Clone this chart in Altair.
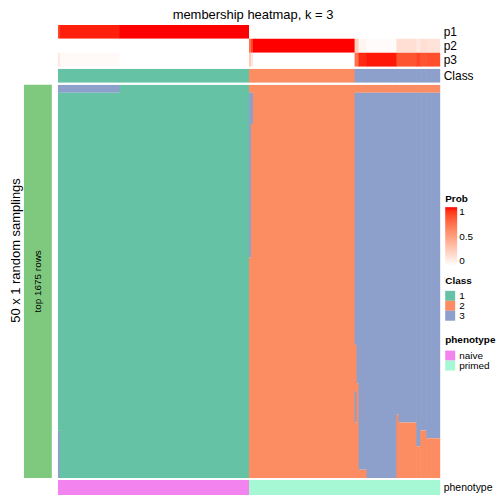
import altair as alt
import pandas as pd

FONT = "Liberation Sans"
N_SAMPLES = 192
N_ROWS = 1675

# ---- top annotation: column groups (sample index ranges) ----
ann_start = [0, 1, 31, 96, 97, 98, 149, 151, 155, 170, 180, 182, 185]
ann_end = [1, 31, 96, 97, 98, 149, 151, 155, 170, 180, 182, 185, 192]
p1 = [0.87, 0.97, 1.0, 0.0, 0.0, 0.0, 0.0, 0.0, 0.0, 0.0, 0.0, 0.0, 0.0]
p2 = [0.0, 0.0, 0.0, 0.72, 0.88, 1.0, 0.25, 0.05, 0.02, 0.17, 0.12, 0.17, 0.15]
p3 = [0.13, 0.03, 0.0, 0.28, 0.12, 0.0, 0.72, 0.95, 0.98, 0.83, 0.88, 0.83, 0.85]
ann_class = ["1", "1", "1", "2", "2", "2", "3", "3", "3", "3", "3", "3", "3"]

# ---- main heatmap: per column group, runs of (row_end, class) ----
hm_start = [0, 1, 31, 96, 97, 98, 149, 150, 151, 155, 170, 171, 180, 182, 185]
hm_end = [1, 31, 96, 97, 98, 149, 150, 151, 155, 170, 171, 180, 182, 185, 192]
hm_runs = [
    [(34, "3"), (1473, "1"), (1675, "3")],
    [(34, "3"), (1675, "1")],
    [(1675, "1")],
    [(34, "2"), (736, "3"), (1675, "2")],
    [(34, "2"), (167, "3"), (1675, "2")],
    [(1675, "2")],
    [(34, "2"), (1107, "3"), (1305, "2"), (1438, "3"), (1675, "2")],
    [(34, "2"), (1271, "3"), (1675, "2")],
    [(34, "2"), (1640, "3"), (1675, "2")],
    [(34, "2"), (1675, "3")],
    [(34, "2"), (1404, "3"), (1675, "2")],
    [(34, "2"), (1438, "3"), (1675, "2")],
    [(34, "2"), (1539, "3"), (1675, "2")],
    [(34, "2"), (1472, "3"), (1675, "2")],
    [(34, "2"), (1505, "3"), (1675, "2")],
]

# ---- phenotype ----
ph_start = [0, 96]
ph_end = [96, 192]
ph_label = ["naive", "primed"]

class_levels = ["1", "2", "3"]
class_colors = ["#66C2A5", "#FC8D62", "#8DA0CB"]
ph_colors = ["#F384EF", "#A6F8D5"]
bar_color = "#7FC97F"

# ---- build tables ----
prob_rows = []
for i in range(len(ann_start)):
    for name, vals in (("p1", p1), ("p2", p2), ("p3", p3)):
        prob_rows.append({"start": ann_start[i], "end": ann_end[i], "row": name, "value": vals[i]})
prob_df = pd.DataFrame(prob_rows)

cls_df = pd.DataFrame({"start": ann_start, "end": ann_end, "cls": ann_class, "lab": "Class"})

hm_rows = []
for s, e, runs in zip(hm_start, hm_end, hm_runs):
    r0 = 0
    for r1, c in runs:
        hm_rows.append({"start": s, "end": e, "r0": r0, "r1": r1, "cls": c})
        r0 = r1
hm_df = pd.DataFrame(hm_rows)

ph_df = pd.DataFrame({"start": ph_start, "end": ph_end, "phenotype": ph_label, "lab": "phenotype"})
bar_df = pd.DataFrame({"label": [f"top {N_ROWS} rows"], "r0": [0], "r1": [N_ROWS], "mid": [N_ROWS / 2]})

W = 384
H = 395
# each cell is drawn a hair wider so that neighbouring cells overlap (no anti-aliasing seams);
# the overhang at the right edge is clipped
OVERLAP = "datum.end + 0.3"
xs = alt.Scale(domain=[0, N_SAMPLES], nice=False, zero=False)
band = alt.Scale(paddingInner=0, paddingOuter=0)
cls_scale = alt.Scale(domain=class_levels, range=class_colors)
prob_scale = alt.Scale(domain=[0, 1], range=["#FFFFFF", "#FF0000"], interpolate="lab")


def right_axis(size=12, pad=3):
    return alt.Axis(orient="right", ticks=False, domain=False, labelPadding=pad, labelFontSize=size,
                    labelFont=FONT, labelColor="black", title=None)


def blank():
    return alt.Chart(alt.Data(values=[{"a": 0}])).mark_rect(opacity=0).encode(
        x=alt.value(0), x2=alt.value(1), y=alt.value(0), y2=alt.value(1)
    ).properties(width=28, height=1)


prob = alt.Chart(prob_df).transform_calculate(end2=OVERLAP).mark_rect(clip=True).encode(
    x=alt.X("start:Q", scale=xs, axis=None),
    x2="end2:Q",
    y=alt.Y("row:N", sort=["p1", "p2", "p3"], scale=band, axis=right_axis()),
    color=alt.Color("value:Q", scale=prob_scale, title="Prob",
                    legend=alt.Legend(orient="none", legendX=389, legendY=170,
                                      titlePadding=3, gradientLength=59, gradientThickness=12,
                                      format="~g", tickCount=2, gradientStrokeWidth=0)),
).properties(width=W, height=42)

cls_panel = alt.Chart(cls_df).transform_calculate(end2=OVERLAP).mark_rect(clip=True).encode(
    x=alt.X("start:Q", scale=xs, axis=None),
    x2="end2:Q",
    y=alt.Y("lab:N", scale=band, axis=right_axis()),
    color=alt.Color("cls:N", scale=cls_scale, legend=None),
).properties(width=W, height=14)

left_bar = alt.Chart(bar_df).mark_rect(color=bar_color).encode(
    x=alt.X("label:N", scale=band, axis=None),
    y=alt.Y("r0:Q", scale=alt.Scale(domain=[0, N_ROWS], reverse=True, nice=False, zero=False),
            axis=alt.Axis(title="50 x 1 random samplings", labels=False, ticks=False, domain=False,
                          grid=False, titleFontSize=13, titleFontWeight="normal", titleFont=FONT,
                          titleColor="black", titlePadding=1, titleY=166)),
    y2="r1",
)
left_text = alt.Chart(bar_df).mark_text(angle=270, fontSize=10, font=FONT, color="black").encode(
    x=alt.X("label:N", scale=band, axis=None),
    y=alt.Y("mid:Q"),
    text="label:N",
)
left = (left_bar + left_text).properties(width=28, height=H)

main = alt.Chart(hm_df).transform_calculate(end2=OVERLAP).mark_rect(clip=True).encode(
    x=alt.X("start:Q", scale=xs, axis=None),
    x2="end2:Q",
    y=alt.Y("r0:Q", scale=alt.Scale(domain=[0, N_ROWS], reverse=True, nice=False, zero=False), axis=None),
    y2="r1",
    color=alt.Color("cls:N", scale=cls_scale, title="Class",
                    legend=alt.Legend(orient="none", legendX=389, legendY=192, titlePadding=5)),
).properties(width=W, height=H)

pheno = alt.Chart(ph_df).transform_calculate(end2=OVERLAP).mark_rect(clip=True).encode(
    x=alt.X("start:Q", scale=xs, axis=None),
    x2="end2:Q",
    y=alt.Y("lab:N", scale=band, axis=right_axis(10.5, 3)),
    color=alt.Color("phenotype:N", scale=alt.Scale(domain=ph_label, range=ph_colors), title="phenotype",
                    legend=alt.Legend(orient="none", legendX=389, legendY=-146, titlePadding=6)),
).properties(width=W, height=15)

chart = alt.concat(
    blank(), prob,
    blank(), cls_panel,
    left, main,
    blank(), pheno,
    columns=2,
    spacing=alt.RowColnumber(row=2, column=6),
    bounds="flush",
    align="each",
).resolve_scale(
    color="independent"
).properties(
    title=alt.TitleParams("membership heatmap, k = 3", anchor="middle", fontSize=13,
                          fontWeight="normal", font=FONT, color="black", offset=3),
    padding={"left": 2, "top": 0, "right": 0, "bottom": 0},
).configure_view(
    stroke=None
).configure_legend(
    titleFont=FONT, labelFont=FONT, titleFontSize=10, labelFontSize=10, titleFontWeight="bold",
    titleColor="black", labelColor="black", symbolType="square", symbolSize=100,
    symbolStrokeWidth=0, rowPadding=0, padding=0, labelOffset=4,
)

chart.save("out.html", embed_options={"renderer": "svg", "actions": False})
